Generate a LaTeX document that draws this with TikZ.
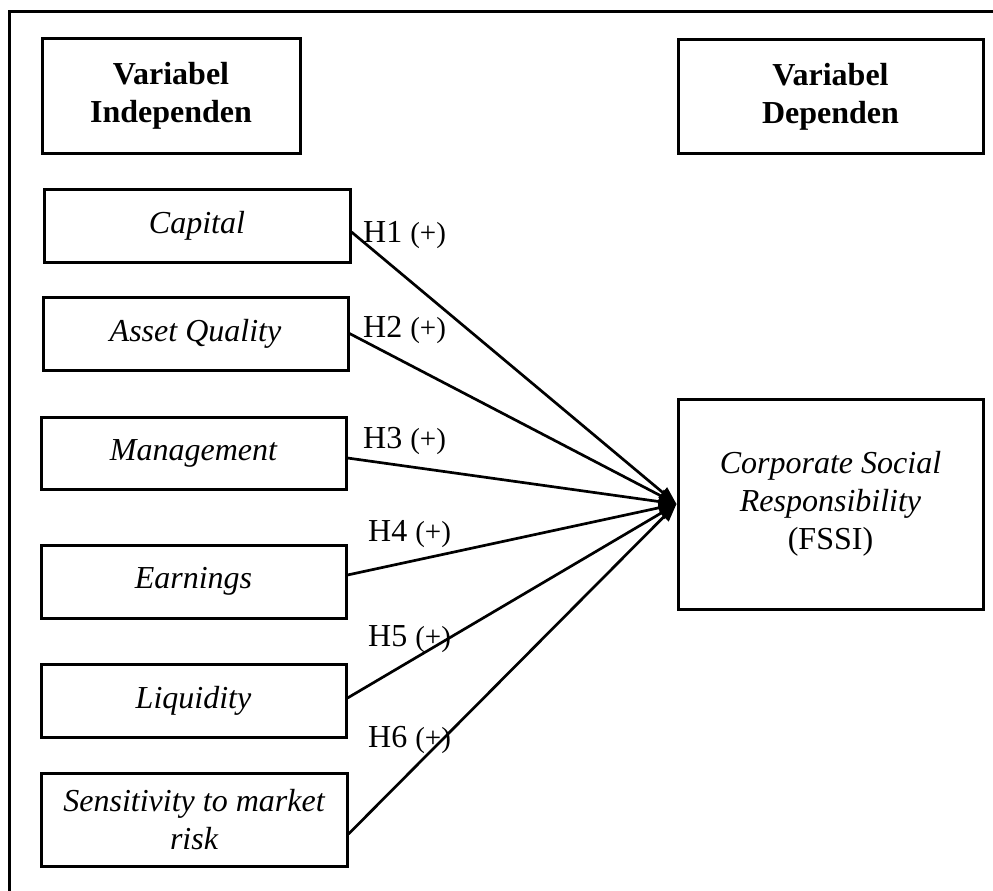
\documentclass[tikz,border=0pt]{standalone}
\usepackage{fontspec}
\setmainfont{Liberation Serif}
\usepackage{tikz}
\usetikzlibrary{arrows.meta}

\begin{document}
\begin{tikzpicture}[x=1pt,y=-1pt,
  every node/.style={font=\fontsize{32}{38}\selectfont},
  varbox/.style={draw, line width=3pt, inner sep=0pt, align=center},
  hyp/.style={anchor=base west, inner sep=0pt},
  link/.style={line width=2.7pt, -{Triangle[length=18pt,width=13pt]}}]
\useasboundingbox[fill=white] (0,0) rectangle (993,891);
\draw [line width=3pt] (9,891) |- (993,12);
% headers
\node [varbox, minimum width=258pt, minimum height=114pt, font=\fontsize{32}{38}\selectfont\bfseries] (indep) at (171,96) {\rule{0pt}{12pt}Variabel\\Independen};
\node [varbox, minimum width=305pt, minimum height=113pt, font=\fontsize{32}{38}\selectfont\bfseries] (dep) at (830.5,96.5) {\rule{0pt}{12pt}Variabel\\Dependen};
% independent variables
\node [varbox, minimum width=306pt, minimum height=73pt] (cap) at (197,225.5) {\itshape Capital};
\node [varbox, minimum width=305pt, minimum height=73pt] (aq) at (195.5,333.5) {\itshape Asset Quality};
\node [varbox, minimum width=305pt, minimum height=72pt] (man) at (193.5,453) {\itshape Management};
\node [varbox, minimum width=305pt, minimum height=73pt] (earn) at (193.5,581.5) {\itshape Earnings};
\node [varbox, minimum width=305pt, minimum height=73pt] (liq) at (193.5,700.5) {\itshape Liquidity};
\node [varbox, minimum width=306pt, minimum height=93pt] (sens) at (194,819.5) {\itshape Sensitivity to market\\\itshape risk};
% dependent variable
\node [varbox, minimum width=305pt, minimum height=210pt] (csr) at (830.5,504) {\rule{0pt}{12pt}\itshape Corporate Social\\\itshape Responsibility\\(FSSI)};
% hypotheses
\draw [link] ([yshift=-6.5pt]cap.east) -- (csr.west);
\draw [link] (aq.east) -- (csr.west);
\draw [link] ([yshift=-5pt]man.east) -- (csr.west);
\draw [link] ([yshift=6.5pt]earn.east) -- (csr.west);
\draw [link] ([yshift=2.5pt]liq.east) -- (csr.west);
\draw [link] ([yshift=-14.5pt]sens.east) -- (csr.west);
\node [hyp] (h1) at (363,242) {H1 {\fontsize{29}{32}\selectfont(+)}};
\node [hyp] (h2) at (363,337) {H2 {\fontsize{29}{32}\selectfont(+)}};
\node [hyp] (h3) at (363,448) {H3 {\fontsize{29}{32}\selectfont(+)}};
\node [hyp] (h4) at (368,541) {H4 {\fontsize{29}{32}\selectfont(+)}};
\node [hyp] (h5) at (368,646) {H5 {\fontsize{29}{32}\selectfont(+)}};
\node [hyp] (h6) at (368,747) {H6 {\fontsize{29}{32}\selectfont(+)}};
\end{tikzpicture}
\end{document}
